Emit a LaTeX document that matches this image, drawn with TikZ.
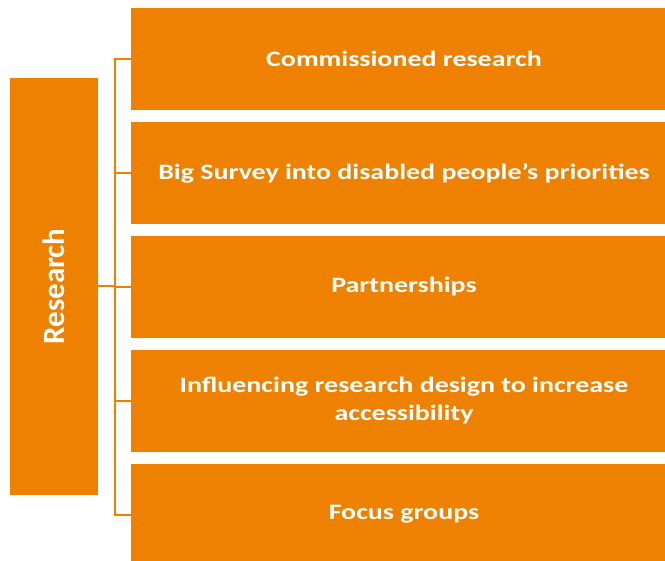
\documentclass[tikz,border=0pt]{standalone}
\usepackage{fontspec}
\setmainfont{Carlito}
\newfontfamily\wideboxfont[FakeStretch=1.27]{Carlito}
\usetikzlibrary{positioning}
\definecolor{rorange}{RGB}{238,129,0}
\tikzset{
	box/.style={fill=rorange,minimum width=534pt,minimum height=102pt,inner sep=0pt},
	lbl/.style={text=white,font=\wideboxfont\bfseries\fontsize{22}{28}\selectfont,align=center,xshift=6pt},
	link/.style={draw=rorange,line width=2pt}
}
\begin{document}
\begin{tikzpicture}[x=1pt,y=-1pt]
	\useasboundingbox (0,0) rectangle (665,561);
	\draw node (b1)[box,label={[lbl]center:Commissioned research}] at (398,59){};
	\draw node (b2)[box,below=11.5pt of b1,label={[lbl]center:Big Survey into disabled people’s priorities}]{};
	\draw node (b3)[box,below=11.5pt of b2,label={[lbl]center:Partnerships}]{};
	\draw node (b4)[box,below=11.5pt of b3,label={[lbl]center:{Influencing research design to increase\\accessibility}}]{};
	\draw node (b5)[box,below=11.5pt of b4,label={[lbl]center:Focus groups}]{};
	\draw node (res)[fill=rorange,minimum width=88pt,minimum height=417pt,inner sep=0pt] at (54,286.5){};
	\draw node[rotate=90,text=white,font=\bfseries\fontsize{31}{36}\selectfont] at (res.center){Research};
	\coordinate (t) at (115,286.5);
	\draw[link] (res.east)--(t);
	\draw[link] (b1.west)-|(t);
	\draw[link] (b2.west)-|(t);
	\draw[link] (b3.west)-|(t);
	\draw[link] (b4.west)-|(t);
	\draw[link] (b5.west)-|(t);
\end{tikzpicture}
\end{document}
